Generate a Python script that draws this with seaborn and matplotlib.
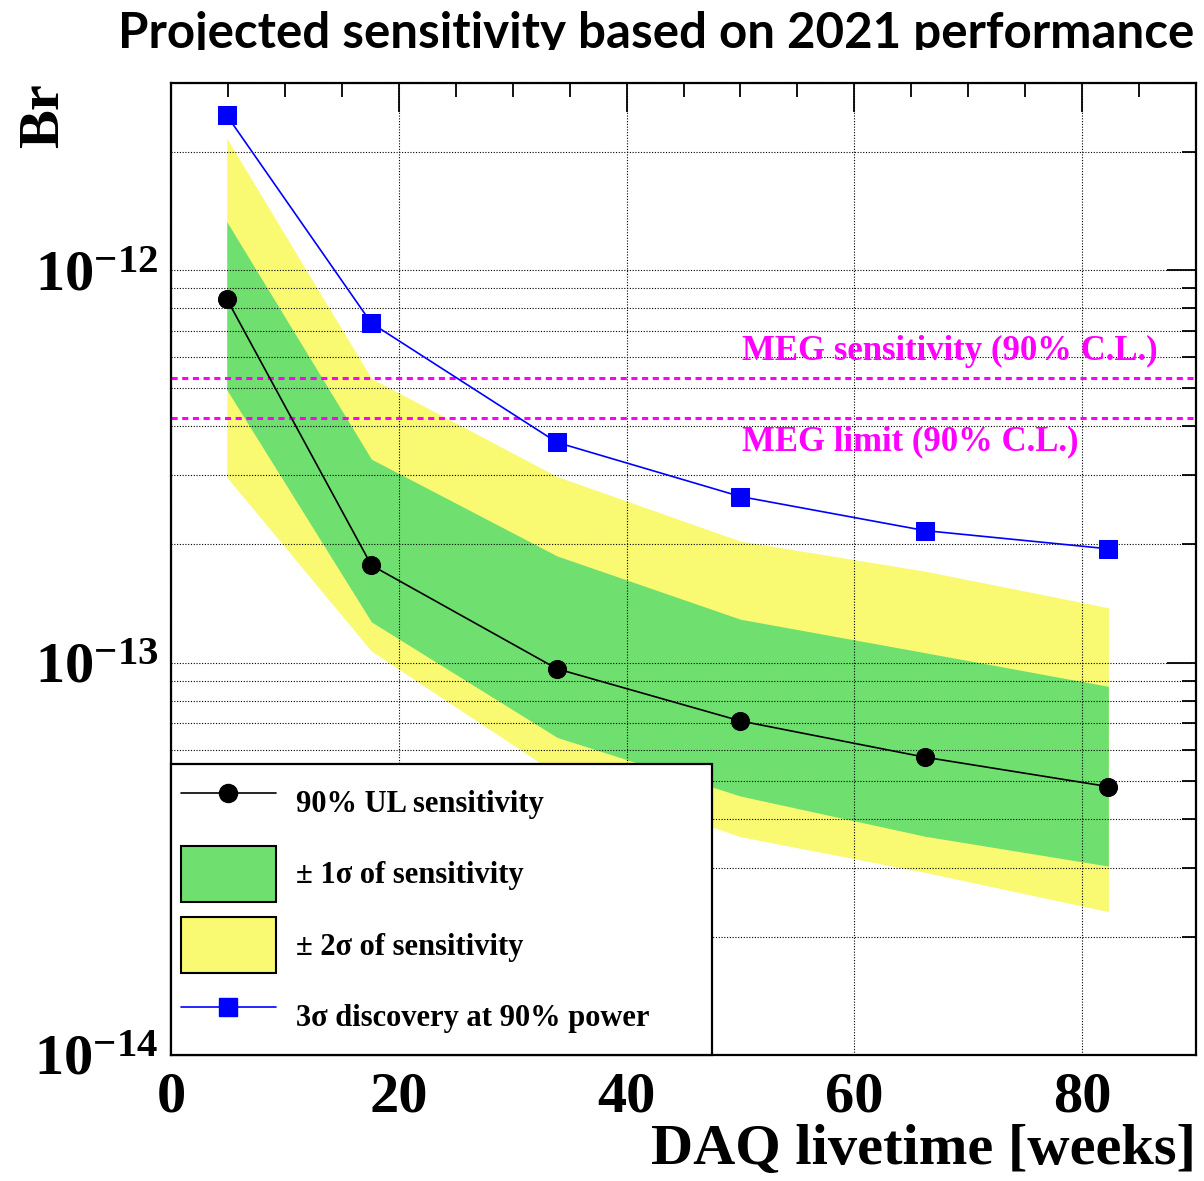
import numpy as np
import pandas as pd
import seaborn as sns
import matplotlib
matplotlib.use("Agg")
import matplotlib.pyplot as plt
from matplotlib.patches import Patch
from matplotlib.lines import Line2D
from matplotlib.ticker import FixedLocator, LogLocator, MultipleLocator, FuncFormatter, NullFormatter
from matplotlib.transforms import Bbox, TransformedBbox

# ---------------- data ----------------
weeks = [4.9, 17.6, 33.9, 50.0, 66.2, 82.3]
ul_sens = [8.45e-13, 1.77e-13, 9.64e-14, 7.1e-14, 5.74e-14, 4.83e-14]
disc_3sigma = [2.48e-12, 7.33e-13, 3.64e-13, 2.65e-13, 2.17e-13, 1.95e-13]
band1_lo = [4.96e-13, 1.27e-13, 6.45e-14, 4.57e-14, 3.61e-14, 3.03e-14]
band1_hi = [1.33e-12, 3.3e-13, 1.87e-13, 1.29e-13, 1.06e-13, 8.7e-14]
band2_lo = [2.97e-13, 1.07e-13, 5.2e-14, 3.6e-14, 2.92e-14, 2.32e-14]
band2_hi = [2.17e-12, 5.3e-13, 2.98e-13, 2.04e-13, 1.71e-13, 1.38e-13]
meg_sens = 5.3e-13
meg_limit = 4.2e-13
y_major = [1e-14, 1e-13, 1e-12]

title = "Projected sensitivity based on 2021 performance"
legend_labels = ["90% UL sensitivity", "\u00b1 1\u03c3 of sensitivity",
                 "\u00b1 2\u03c3 of sensitivity", "3\u03c3 discovery at 90% power"]

df = pd.DataFrame({"weeks": weeks, "ul": ul_sens, "disc": disc_3sigma})

# ---------------- style ----------------
sns.set_style("white")
plt.rcParams["font.family"] = ["Liberation Serif", "DejaVu Serif"]
plt.rcParams["font.weight"] = "bold"
plt.rcParams["mathtext.fontset"] = "custom"
plt.rcParams["mathtext.rm"] = "Liberation Serif:bold"
plt.rcParams["mathtext.bf"] = "Liberation Serif:bold"
plt.rcParams["mathtext.it"] = "Liberation Serif:bold:italic"
for k in ["text.color", "axes.labelcolor", "xtick.color", "ytick.color", "axes.edgecolor"]:
    plt.rcParams[k] = "black"

GREEN = "#6fe06f"
YELLOW = "#f9f972"
MAGENTA = "#ff00ff"

fig = plt.figure(figsize=(12.04, 11.81), dpi=100)
ax = fig.add_axes([0.142, 0.1067, 0.8514, 0.8230])

ax.set_yscale("log")
ax.fill_between(weeks, band2_lo, band2_hi, color=YELLOW, lw=0, zorder=1)
ax.fill_between(weeks, band1_lo, band1_hi, color=GREEN, lw=0, zorder=1.1)

ax.axhline(meg_sens, color=MAGENTA, lw=2.2, dashes=(2, 1.5), zorder=3)
ax.axhline(meg_limit, color=MAGENTA, lw=2.2, dashes=(2, 1.5), zorder=3)

sns.lineplot(data=df, x="weeks", y="ul", ax=ax, color="black", lw=1.2,
             marker="o", markersize=13, markeredgecolor="black", legend=False, zorder=4)
sns.lineplot(data=df, x="weeks", y="disc", ax=ax, color="#0000ff", lw=1.2,
             marker="s", markersize=13, markeredgecolor="#0000ff", legend=False, zorder=4)

ax.text(50.1, 6.2e-13, "MEG sensitivity (90% C.L.)", color=MAGENTA, fontsize=25,
        fontweight="bold", va="center", ha="left", zorder=5)
ax.text(50.1, 3.65e-13, "MEG limit (90% C.L.)", color=MAGENTA, fontsize=25,
        fontweight="bold", va="center", ha="left", zorder=5)

ax.set_xlim(0, 90)
ax.set_ylim(1e-14, 3e-12)

ax.xaxis.set_major_locator(MultipleLocator(20))
ax.xaxis.set_minor_locator(MultipleLocator(5))
ax.yaxis.set_major_locator(FixedLocator(y_major))
ax.yaxis.set_minor_locator(LogLocator(base=10, subs=np.arange(2, 10)))
ax.yaxis.set_major_formatter(FuncFormatter(lambda v, p: r"$\mathbf{10^{%d}}$" % int(round(np.log10(v)))))
ax.yaxis.set_minor_formatter(NullFormatter())
ax.xaxis.set_major_formatter(FuncFormatter(lambda v, p: "%d" % v))

ax.tick_params(which="both", direction="in", top=True, right=True, width=1.3, color="black")
ax.tick_params(which="major", length=21)
ax.tick_params(which="minor", length=10)
ax.tick_params(axis="x", which="major", labelsize=42, pad=12, labelcolor="black")
ax.tick_params(axis="y", which="major", labelsize=42, pad=9, labelcolor="black")

ax.grid(which="major", axis="x", color="black", lw=0.8, ls=(0, (1, 1.5)))
ax.grid(which="both", axis="y", color="black", lw=0.8, ls=(0, (1, 1.5)))
ax.set_axisbelow(False)

for s in ax.spines.values():
    s.set_linewidth(1.6)
    s.set_color("black")
    s.set_zorder(6)

ax.set_xlabel("DAQ livetime [weeks]", fontsize=42, fontweight="bold", ha="right", va="top",
              color="black")
ax.xaxis.set_label_coords(1.0, -0.071)
ax.set_ylabel("Br", fontsize=42, fontweight="bold", loc="top", color="black")
ax.yaxis.set_label_coords(-0.098, 1.0)

handles = [
    Line2D([], [], color="black", lw=1.2, marker="o", markersize=13),
    Patch(facecolor=GREEN, edgecolor="black", lw=1.5),
    Patch(facecolor=YELLOW, edgecolor="black", lw=1.5),
    Line2D([], [], color="#0000ff", lw=1.2, marker="s", markersize=13),
]
leg = ax.legend(handles, legend_labels, loc="lower left", bbox_to_anchor=(0, 0, 0.528, 0.295),
                mode="expand", borderaxespad=0, handlelength=3.1, handleheight=2.45,
                labelspacing=0.5, handletextpad=0.65, borderpad=0.33, fancybox=False,
                framealpha=1, edgecolor="black", prop={"weight": "bold", "size": 22})
leg.get_frame().set_linewidth(1.6)
leg.set_zorder(7)
for txt in leg.get_texts():
    txt.set_color("black")

t = fig.text(0.5453, 1 - 47 / 1181, title, ha="center", va="baseline", fontsize=35.5,
             fontweight="bold", family=["Lato", "DejaVu Sans"], color="black")
t.set_clip_box(TransformedBbox(Bbox([[0, 1 - 50 / 1181], [1, 1]]), fig.transFigure))
t.set_clip_on(True)

fig.savefig("out.png", dpi=100)
